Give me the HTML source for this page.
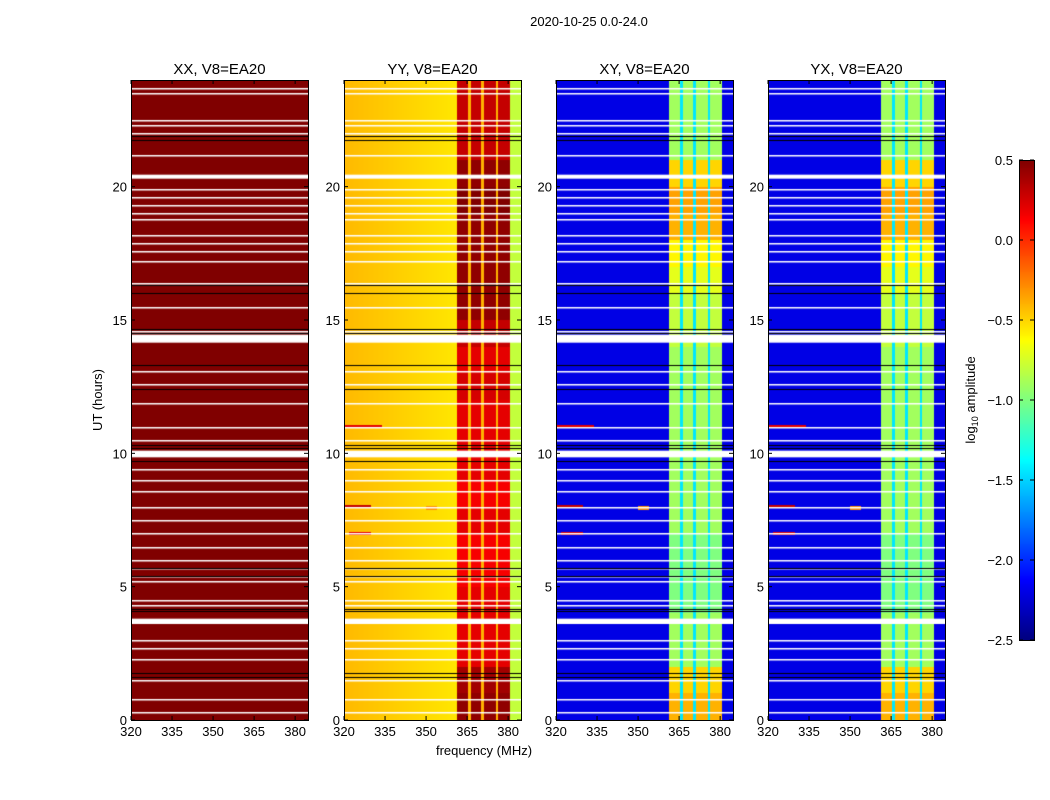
<!DOCTYPE html>
<html><head><meta charset="utf-8">
<style>
body{margin:0;background:#fff;width:1050px;height:800px;overflow:hidden;position:relative;font-family:"Liberation Sans","DejaVu Sans",sans-serif;}
canvas{position:absolute;}
svg{position:absolute;left:0;top:0;}
</style></head>
<body>
<canvas id="c0" width="177" height="640" style="left:131px;top:80px"></canvas>
<canvas id="c1" width="177" height="640" style="left:344px;top:80px"></canvas>
<canvas id="c2" width="177" height="640" style="left:556px;top:80px"></canvas>
<canvas id="c3" width="177" height="640" style="left:768px;top:80px"></canvas>
<canvas id="cb" width="15" height="480" style="left:1019px;top:160px"></canvas>
<svg id="ov" width="1050" height="800"></svg>
<script>
// ---- data ----
const panelTitles = ["XX, V8=EA20","YY, V8=EA20","XY, V8=EA20","YX, V8=EA20"];
const xTicks = [320,335,350,365,380];
const yTicks = [0,5,10,15,20];
const cbTicks = [-2.5,-2.0,-1.5,-1.0,-0.5,0.0,0.5];
const bandEdges = [[361.3,365.4],[366.5,370.0],[371.2,375.6],[376.4,380.7]];
// per-hour band levels (log10 amplitude), hours 0..23
const yyBandLevel = [0.45,0.4,0.2,0.2,0.2,0.15,0.15,0.2,0.15,0.2,0.2,0.2,0.25,0.2,0.3,0.45,0.45,0.45,0.45,0.5,0.45,0.3,0.3,0.3];
const crossBandLevel = [-0.4,-0.5,-0.9,-0.9,-1.0,-1.0,-1.0,-0.9,-0.9,-0.9,-0.9,-0.9,-0.9,-0.9,-0.8,-0.8,-0.7,-0.6,-0.4,-0.35,-0.5,-0.9,-0.9,-0.9];
const yyBase = [-0.42,-0.55,-0.8]; // left, mid(360MHz), right edge
const crossBase = -2.2, crossGap = -1.45, xxLevel = 0.6;
const whiteBands = [[20.3,20.45],[14.15,14.45],[9.85,10.1],[3.6,3.8]];
const whiteLines = [23.7,23.5,22.5,22.3,22.0,21.2,19.9,19.6,19.3,19.0,18.8,18.2,17.9,17.6,17.2,16.4,15.5,14.6,13.1,12.6,11.9,11.0,10.5,9.4,9.0,8.6,8.0,7.5,7.0,6.5,6.0,5.7,5.4,5.2,4.5,4.3,3.0,2.7,2.3,1.5,0.8,0.3];
const blackLines = [21.9,21.75,16.3,16.0,14.65,14.5,13.3,12.4,10.3,10.2,9.7,5.7,5.4,4.15,4.1,1.75,1.6];
const rfiLines = [[11.0,320,334,0.2],[8.0,320,330,0.3],[7.0,322,330,0.2],[7.95,350,354,-0.3]];
// ---- helpers ----
const FMIN=320,FMAX=384.7,TMAX=24,W=177,H=640,VMIN=-2.5,VMAX=0.5;
const fx=f=>(f-FMIN)/(FMAX-FMIN)*W;
const ty=t=>H-(t/TMAX)*H;
function jet(v){let x=(v-VMIN)/(VMAX-VMIN);x=Math.max(0,Math.min(1,x));
 const c=s=>Math.max(0,Math.min(1,s));
 return [c(1.5-Math.abs(4*x-3)),c(1.5-Math.abs(4*x-2)),c(1.5-Math.abs(4*x-1))].map(q=>Math.round(q*255));}
function inBand(f){for(const b of bandEdges) if(f>=b[0]&&f<=b[1]) return true;return false;}
function val(p,f,t){
 const h=Math.min(23,Math.floor(t));
 for(const r of rfiLines) if(Math.abs(t-r[0])<0.06&&f>=r[1]&&f<=r[2]&&p>0) return r[3];
 if(p===0) return xxLevel;
 if(p===1){ if(inBand(f)) return yyBandLevel[h];
   if(f>bandEdges[0][0]&&f<bandEdges[3][1]) return -0.4;
   if(f>=bandEdges[3][1]) return yyBase[2];
   return f<360? yyBase[0]+(yyBase[1]-yyBase[0])*(f-320)/40 : yyBase[1]; }
 if(inBand(f)) return crossBandLevel[h];
 if(f>bandEdges[0][0]&&f<bandEdges[3][1]) return crossGap;
 return crossBase;
}
for(let p=0;p<4;p++){
 const cv=document.getElementById('c'+p),ctx=cv.getContext('2d'),img=ctx.createImageData(W,H);
 for(let y=0;y<H;y++){const t=TMAX*(1-(y+0.5)/H);
  for(let x=0;x<W;x++){const f=FMIN+(x+0.5)/W*(FMAX-FMIN);const c=jet(val(p,f,t));const i=(y*W+x)*4;
   img.data[i]=c[0];img.data[i+1]=c[1];img.data[i+2]=c[2];img.data[i+3]=255;}}
 ctx.putImageData(img,0,0);
 ctx.fillStyle='#fff';
 for(const b of whiteBands) ctx.fillRect(0,ty(b[1]),W,ty(b[0])-ty(b[1]));
 for(const w of whiteLines) ctx.fillRect(0,Math.round(ty(w)),W,1.5);
 ctx.fillStyle='#000';
 for(const b of blackLines) ctx.fillRect(0,Math.round(ty(b)),W,1);
}
{const cv=document.getElementById('cb'),ctx=cv.getContext('2d');
 for(let y=0;y<480;y++){const c=jet(VMAX-(y+0.5)/480*(VMAX-VMIN));ctx.fillStyle=`rgb(${c})`;ctx.fillRect(0,y,15,1);}}
// ---- overlay ----
const NS='http://www.w3.org/2000/svg',ov=document.getElementById('ov');
function el(tag,a,txt){const e=document.createElementNS(NS,tag);for(const k in a)e.setAttribute(k,a[k]);if(txt!==undefined)e.textContent=txt;ov.appendChild(e);return e;}
const lefts=[131,344,556,768],TOP=80;
let e=el('text',{x:589,y:26,'font-size':13,'text-anchor':'middle',fill:'#000'},'2020-10-25 0.0-24.0');


lefts.forEach((L,p)=>{
 let r=el('rect',{x:L+0.5,y:TOP+0.5,width:W,height:H,fill:'none',stroke:'#000'});
 
 
 let tt=el('text',{x:L+W/2,y:74,'font-size':15,'text-anchor':'middle'},panelTitles[p]);
 
 
 xTicks.forEach(v=>{const x=L+fx(v);
  el('line',{x1:x,x2:x,y1:TOP+H,y2:TOP+H-4,stroke:'#000'});el('line',{x1:x,x2:x,y1:TOP,y2:TOP+4,stroke:'#000'});
  const l=el('text',{x:x,y:736,'font-size':13,'text-anchor':'middle'},String(v));
  
  });
 yTicks.forEach(v=>{const y=TOP+ty(v);
  el('line',{x1:L,x2:L+4,y1:y,y2:y,stroke:'#000'});el('line',{x1:L+W,x2:L+W-4,y1:y,y2:y,stroke:'#000'});
  const l=el('text',{x:L-4,y:y+5,'font-size':13,'text-anchor':'end'},String(v));
  
  });
});
e=el('text',{x:0,y:0,'font-size':13,'text-anchor':'middle',transform:'translate(102,400) rotate(-90)'},'UT (hours)');


e=el('text',{x:484,y:755,'font-size':13,'text-anchor':'middle'},'frequency (MHz)');


let cf=el('rect',{x:1019.5,y:160.5,width:15,height:480,fill:'none',stroke:'#000'});


cbTicks.forEach(v=>{const y=160+(VMAX-v)/(VMAX-VMIN)*480;
 el('line',{x1:1019,x2:1023,y1:y,y2:y,stroke:'#000'});el('line',{x1:1030,x2:1034,y1:y,y2:y,stroke:'#000'});
 const l=el('text',{x:1013,y:y+5,'font-size':13,'text-anchor':'end'},(v<0?'\u2212':'')+Math.abs(v).toFixed(1));
 
 });
e=el('text',{x:0,y:0,'font-size':13,'text-anchor':'middle',transform:'translate(975,400) rotate(-90)'});
e.innerHTML='log<tspan font-size="9" dy="3">10</tspan><tspan dy="-3"> amplitude</tspan>';


</script>
</body></html>
